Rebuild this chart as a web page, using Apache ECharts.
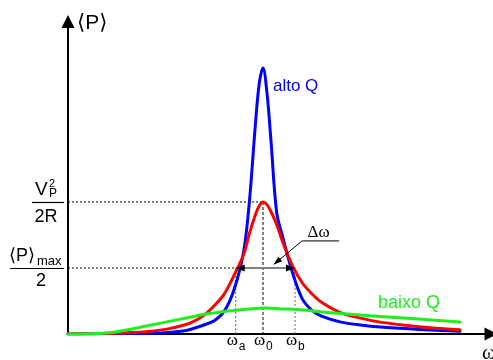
<!DOCTYPE html>
<html><head><meta charset="utf-8">
<script src="https://cdn.jsdelivr.net/npm/echarts@6/dist/echarts.min.js"></script>
<style>html,body{margin:0;padding:0;background:#fff}#c{width:493px;height:360px}</style>
</head><body><div id="c"></div>
<script>
// angular frequency samples (units of omega0)
const omega  = [0, 0.2, 0.3, 0.4, 0.5, 0.6, 0.65, 0.7, 0.75, 0.8, 0.85, 0.9, 0.93, 0.96, 0.98, 1.0, 1.02, 1.04, 1.07, 1.1, 1.15, 1.2, 1.25, 1.3, 1.4, 1.5, 1.6, 1.8, 2.01];
// average power (units of V_P^2/2R for the red curve)
const altoQ  = [0, 0.002, 0.004, 0.006, 0.01, 0.025, 0.045, 0.07, 0.10, 0.17, 0.33, 0.62, 1.0, 1.57, 1.89, 2.015, 1.83, 1.48, 0.92, 0.74, 0.47, 0.27, 0.18, 0.135, 0.09, 0.068, 0.053, 0.035, 0.02];
const medioQ = [0, 0.005, 0.01, 0.018, 0.035, 0.07, 0.10, 0.145, 0.215, 0.30, 0.44, 0.60, 0.76, 0.90, 0.97, 1.0, 0.98, 0.93, 0.83, 0.70, 0.52, 0.39, 0.305, 0.24, 0.16, 0.12, 0.09, 0.055, 0.033];
const baixoQ = [0, 0.008, 0.03, 0.06, 0.09, 0.12, 0.135, 0.15, 0.16, 0.17, 0.178, 0.186, 0.19, 0.193, 0.195, 0.197, 0.196, 0.195, 0.193, 0.19, 0.187, 0.182, 0.175, 0.167, 0.155, 0.144, 0.133, 0.114, 0.09];
const omegaA = 0.86, omega0 = 1.0, omegaB = 1.164;
const pMax = 1.0, pHalf = 0.5;
const serieNames = ['alto Q', 'médio Q', 'baixo Q'];

const chart = echarts.init(document.getElementById('c'), null, {renderer: 'canvas'});
const pair = arr => omega.map((w, i) => [w, arr[i]]);
const axisCommon = {
  type: 'value', axisTick: {show: false}, axisLabel: {show: false}, splitLine: {show: false},
  axisLine: {lineStyle: {color: '#000', width: 2}, symbol: ['none', 'triangle'], symbolSize: [13, 13]}
};
const lineSeries = (i, arr, color, z) => ({
  name: serieNames[i], type: 'line', data: pair(arr), smooth: 0.35, symbol: 'none', showSymbol: false,
  sampling: null, lineStyle: {color: color, width: 3, cap: 'round', join: 'round'}, z: z
});
chart.setOption({
  animation: false,
  grid: {left: 68, right: 2, top: 21.5, bottom: 26},
  xAxis: Object.assign({}, axisCommon, {min: 0, max: 2.169}),
  yAxis: Object.assign({}, axisCommon, {min: 0, max: 2.367}),
  series: [
    lineSeries(0, altoQ, '#0000FF', 3),
    lineSeries(1, medioQ, '#FF0000', 4),
    lineSeries(2, baixoQ, '#1EEF1E', 5)
  ]
});

const P = (w, p) => chart.convertToPixel({gridIndex: 0}, [w, p]);
const o = P(0, 0), pk = P(omega0, pMax), hA = P(omegaA, pHalf), hB = P(omegaB, pHalf), b0 = P(omega0, 0), bA = P(omegaA, 0), bB = P(omegaB, 0);
const sans = '"Liberation Sans", Arial, "DejaVu Sans", sans-serif';
const serif = '"Liberation Serif", "Times New Roman", "DejaVu Serif", serif';
const g = [];
const line = (x1, y1, x2, y2, stroke, width, dash, z) => g.push({type: 'line', shape: {x1, y1, x2, y2}, style: {stroke, lineWidth: width, lineDash: dash || null}, z: z || 1, silent: true});
const text = (x, y, t, size, fam, fill, align, va, z) => g.push({type: 'text', x, y, style: {text: t, fontSize: size, fontFamily: fam, fill: fill || '#000', align: align || 'left', verticalAlign: va || 'middle'}, z: z || 10, silent: true});
const tri = (pts, z) => g.push({type: 'polygon', shape: {points: pts}, style: {fill: '#000'}, z: z || 12, silent: true});

// dotted guide lines
line(o[0], pk[1], pk[0], pk[1], '#000', 1, [2, 2]);
line(o[0], hA[1], hA[0], hA[1], '#000', 1, [2, 2]);
line(pk[0], pk[1], b0[0], b0[1], '#000', 1, [3, 2]);
line(hA[0], hA[1], bA[0], bA[1], '#666', 1, [2, 2]);
line(hB[0], hB[1], bB[0], bB[1], '#666', 1, [2, 2]);

// double arrow (Delta omega)
const ya = hA[1];
line(hA[0] + 6, ya, hB[0] - 6, ya, '#808080', 2, null, 11);
tri([[hA[0], ya], [hA[0] + 9, ya - 3.5], [hA[0] + 9, ya + 3.5]]);
tri([[hB[0], ya], [hB[0] - 9, ya - 3.5], [hB[0] - 9, ya + 3.5]]);

// leader for Delta omega
const tip = P(1.053, 0.525), elb = P(1.2, 0.705), lend = P(1.39, 0.705);
line(elb[0], elb[1], lend[0], lend[1], '#000', 1, null, 11);
line(elb[0], elb[1], tip[0] + 4, tip[1] - 3.2, '#000', 1, null, 11);
(function () {
  const dx = elb[0] - tip[0], dy = elb[1] - tip[1], L = Math.hypot(dx, dy), ux = dx / L, uy = dy / L;
  const bx = tip[0] + ux * 9, by = tip[1] + uy * 9;
  tri([[tip[0], tip[1]], [bx - uy * 3, by + ux * 3], [bx + uy * 3, by - ux * 3]]);
})();
const dl = P(1.285, 0.77);
text(dl[0], dl[1], 'Δω', 17, serif, '#000', 'center');

// series labels
const la = P(1.051, 1.879);
text(la[0], la[1], serieNames[0], 17, sans, '#0000FF');
const lb = P(1.59, 0.235);
text(lb[0], lb[1], serieNames[2], 18, sans, '#1EEF1E');

// axis titles
text(o[0] + 9, 23, '⟨P⟩', 21, sans, '#000');
text(482, 353, 'ω', 21, serif, '#000');

// y tick labels as fractions
const y1 = pk[1];
text(35, y1 - 12, 'V', 19, sans);
text(49, y1 - 18, '2', 11, sans);
text(49, y1 - 8, 'P', 12, sans);
line(32, y1 + 0.5, 64, y1 + 0.5, '#000', 1.2);
text(46, y1 + 15, '2R', 18, sans, '#000', 'center');
const y2 = hA[1];
text(9, y2 - 12, '⟨P⟩', 18, sans);
text(37, y2 - 7, 'max', 13, sans);
line(10, y2 + 0.5, 64, y2 + 0.5, '#000', 1.2);
text(41, y2 + 13, '2', 18, sans, '#000', 'center');

// omega tick labels
const wl = (x, sub) => { text(x - 9, 341, 'ω', 17, serif); text(x + 3, 347, sub, 12, sans); };
wl(bA[0], 'a'); wl(b0[0], '0'); wl(bB[0], 'b');

chart.setOption({graphic: {elements: g}});
</script></body></html>
